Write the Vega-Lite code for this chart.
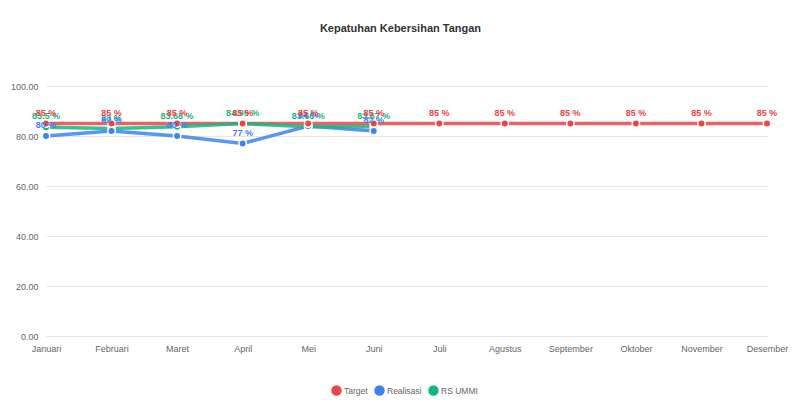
{
  "$schema": "https://vega.github.io/schema/vega-lite/v6.json",
  "autosize": "none",
  "width": 721,
  "height": 250,
  "padding": {"left": 46, "top": 86, "right": 33, "bottom": 64},
  "title": {
    "text": "Kepatuhan Kebersihan Tangan",
    "font": "Liberation Sans",
    "fontSize": 11,
    "fontWeight": "bold",
    "color": "#333333",
    "anchor": "middle",
    "offset": 48,
    "dx": -6
  },
  "config": {
    "view": {"stroke": "transparent"},
    "font": "Liberation Sans",
    "axis": {
      "labelFont": "Liberation Sans",
      "labelFontSize": 9,
      "labelColor": "#666666",
      "domain": false,
      "ticks": false,
      "gridColor": "#e6e6e6",
      "title": null
    }
  },
  "data": {
    "values": [
      {"bulan": "Januari", "seri": "Target", "nilai": 85},
      {"bulan": "Februari", "seri": "Target", "nilai": 85},
      {"bulan": "Maret", "seri": "Target", "nilai": 85},
      {"bulan": "April", "seri": "Target", "nilai": 85},
      {"bulan": "Mei", "seri": "Target", "nilai": 85},
      {"bulan": "Juni", "seri": "Target", "nilai": 85},
      {"bulan": "Juli", "seri": "Target", "nilai": 85},
      {"bulan": "Agustus", "seri": "Target", "nilai": 85},
      {"bulan": "September", "seri": "Target", "nilai": 85},
      {"bulan": "Oktober", "seri": "Target", "nilai": 85},
      {"bulan": "November", "seri": "Target", "nilai": 85},
      {"bulan": "Desember", "seri": "Target", "nilai": 85},
      {"bulan": "Januari", "seri": "Realisasi", "nilai": 80},
      {"bulan": "Februari", "seri": "Realisasi", "nilai": 82},
      {"bulan": "Maret", "seri": "Realisasi", "nilai": 80},
      {"bulan": "April", "seri": "Realisasi", "nilai": 77},
      {"bulan": "Mei", "seri": "Realisasi", "nilai": 84},
      {"bulan": "Juni", "seri": "Realisasi", "nilai": 82},
      {"bulan": "Januari", "seri": "RS UMMI", "nilai": 83.5},
      {"bulan": "Februari", "seri": "RS UMMI", "nilai": 83},
      {"bulan": "Maret", "seri": "RS UMMI", "nilai": 83.68},
      {"bulan": "April", "seri": "RS UMMI", "nilai": 84.95},
      {"bulan": "Mei", "seri": "RS UMMI", "nilai": 83.66},
      {"bulan": "Juni", "seri": "RS UMMI", "nilai": 83.67}
    ]
  },
  "transform": [
    {"calculate": "datum.nilai + ' %'", "as": "label"}
  ],
  "encoding": {
    "x": {
      "field": "bulan",
      "type": "ordinal",
      "sort": ["Januari", "Februari", "Maret", "April", "Mei", "Juni", "Juli", "Agustus", "September", "Oktober", "November", "Desember"],
      "scale": {"type": "point", "padding": 0},
      "axis": {"labelAngle": 0, "grid": false, "labelPadding": 8}
    },
    "y": {
      "field": "nilai",
      "type": "quantitative",
      "scale": {"domain": [0, 100]},
      "axis": {"format": ".2f", "tickCount": 5, "labelPadding": 8}
    },
    "color": {
      "field": "seri",
      "type": "nominal",
      "sort": ["Target", "Realisasi", "RS UMMI"],
      "scale": {
        "domain": ["Target", "Realisasi", "RS UMMI"],
        "range": ["#ef4444", "#3b82f6", "#10b981"]
      },
      "legend": {
        "title": null,
        "orient": "none",
        "direction": "horizontal",
        "legendX": 285,
        "legendY": 299,
        "symbolType": "circle",
        "symbolSize": 80,
        "symbolOpacity": 1,
        "labelFontSize": 8.5,
        "labelColor": "#666666",
        "columnPadding": 4,
        "labelOffset": 2
      }
    },
    "order": {"field": "seri"}
  },
  "layer": [
    {
      "mark": {"type": "line", "strokeWidth": 3.5, "opacity": 0.85},
      "encoding": {"detail": {"field": "seri"}}
    },
    {
      "mark": {"type": "point", "filled": true, "size": 55, "opacity": 1, "stroke": "white", "strokeWidth": 1.5}
    },
    {
      "mark": {"type": "text", "dy": -11, "fontSize": 9, "fontWeight": "bold"},
      "encoding": {
        "text": {"field": "label", "type": "nominal"},
        "color": {"field": "seri", "type": "nominal", "legend": null}
      }
    }
  ]
}
